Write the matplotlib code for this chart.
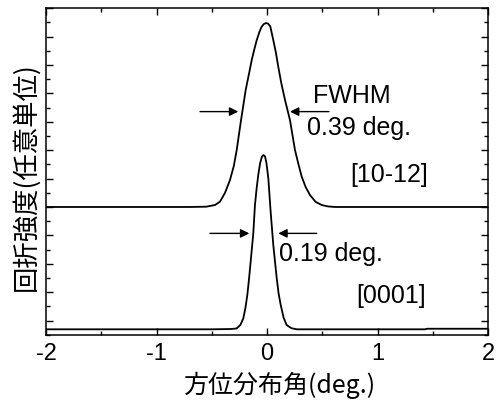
import numpy as np
import matplotlib
matplotlib.use('Agg')
import matplotlib.pyplot as plt
from matplotlib.ticker import MultipleLocator

# [10-12] rocking curve (deg., arb. units)
x_1012 = [-2.0, -1.0, -0.7, -0.55, -0.47, -0.425, -0.38, -0.335, -0.30, -0.274,
          -0.235, -0.193, -0.16, -0.138, -0.115, -0.093, -0.07, -0.05, -0.03,
          -0.01, 0.01, 0.03, 0.057, 0.08, 0.102, 0.13, 0.163, 0.208, 0.253,
          0.285, 0.314, 0.35, 0.389, 0.44, 0.495, 0.55, 0.615, 0.8, 1.2, 2.0]
y_1012 = [4.0, 4.0, 4.0, 4.01, 4.07, 4.19, 4.5, 4.95, 5.45, 6.01,
          7.06, 8.12, 8.75, 9.18, 9.55, 9.88, 10.15, 10.34, 10.44,
          10.48, 10.46, 10.36, 9.88, 9.45, 8.94, 8.35, 7.77, 7.06, 6.01,
          5.5, 5.07, 4.7, 4.42, 4.18, 4.07, 4.02, 4.0, 4.0, 4.0, 4.0]

# [0001] rocking curve
x_0001 = [-2.0, -1.0, -0.5, -0.33, -0.274, -0.24, -0.214, -0.195, -0.178,
          -0.163, -0.148, -0.124, -0.109, -0.094, -0.079, -0.062, -0.045,
          -0.032, -0.018, -0.005, 0.012, 0.022, 0.033, 0.057, 0.088, 0.105,
          0.124, 0.15, 0.178, 0.22, 0.269, 0.4, 1.0, 1.43, 1.45, 2.0]
y_0001 = [-0.31, -0.31, -0.31, -0.3, -0.28, -0.15, 0.08, 0.45, 0.9,
          1.45, 2.07, 3.07, 4.07, 4.65, 5.13, 5.55, 5.78,
          5.83, 5.78, 5.55, 5.01, 4.45, 3.83, 2.66, 1.49, 0.95,
          0.55, 0.1, -0.16, -0.27, -0.31, -0.31, -0.31, -0.31, -0.29, -0.29]

xticks = [-2, -1, 0, 1, 2]
xtick_labels = ['-2', '-1', '0', '1', '2']

# FWHM arrows: (tail x, tip x, y)
arrows = [(-0.606, -0.26, 7.36), (0.561, 0.208, 7.36),
          (-0.516, -0.16, 3.07), (0.45, 0.102, 3.07)]

labels = [('FWHM', 0.416, 7.91), ('0.39 deg.', 0.359, 6.78), ('[10-12]', 0.751, 5.13),
          ('0.19 deg.', 0.111, 2.34), ('[0001]', 0.812, 0.88)]

plt.rcParams['font.family'] = ['Liberation Sans', 'DejaVu Sans']

fig = plt.figure(figsize=(4.96, 4.0), dpi=100)
ax = fig.add_axes([46 / 496, 1 - 334.7 / 400, 442 / 496, 326.4 / 400])

ax.plot(x_1012, y_1012, color='black', lw=1.3)
ax.plot(x_0001, y_0001, color='black', lw=1.3)

for x0, x1, y in arrows:
    ax.annotate('', xy=(x1, y), xytext=(x0, y),
                arrowprops=dict(arrowstyle='-|>', color='black', lw=1.0,
                                mutation_scale=13, shrinkA=0, shrinkB=0))

for txt, x, y in labels:
    ax.text(x, y, txt, fontsize=18, ha='left', va='center')

ax.set_xlim(-2, 2)
ax.set_ylim(-0.5, 11)
ax.set_xticks(xticks)
ax.set_xticklabels(xtick_labels)
ax.xaxis.set_minor_locator(MultipleLocator(0.5))
ax.yaxis.set_major_locator(MultipleLocator(1))
ax.yaxis.set_minor_locator(MultipleLocator(0.5))
ax.tick_params(which='both', direction='in', top=True, right=True, width=1.0)
ax.tick_params(which='major', length=5, labelsize=17, pad=6)
ax.tick_params(which='minor', length=3)
ax.tick_params(axis='y', labelleft=False)
for s in ax.spines.values():
    s.set_linewidth(1.1)

cjk = ['Noto Sans CJK JP', 'DejaVu Sans']
ax.set_xlabel('方位分布角(deg.)', fontsize=18, family=cjk)
ax.xaxis.set_label_coords((280 - 46) / 442, -0.113)
ax.set_ylabel('回折強度(任意単位)', fontsize=19, family=cjk)
ax.yaxis.set_label_coords(-0.014, 0.483)

fig.savefig('out.png', dpi=100)
